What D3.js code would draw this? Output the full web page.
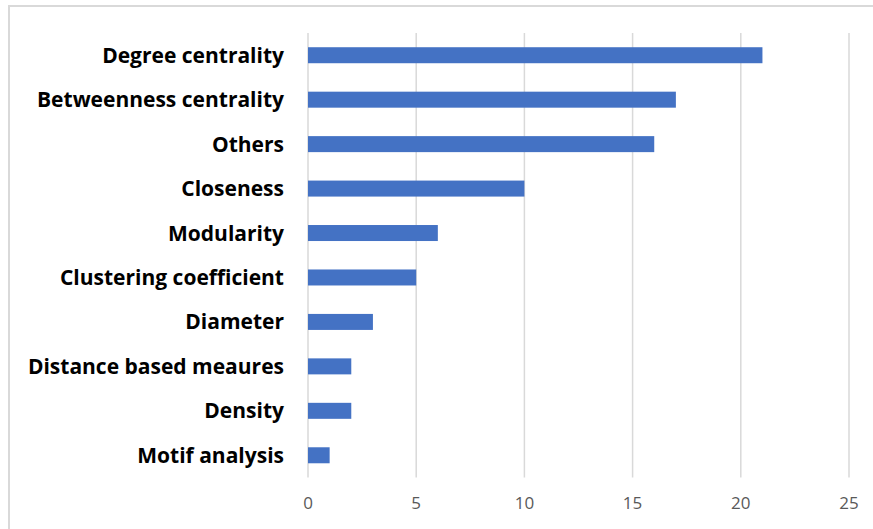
<!DOCTYPE html>
<html>
<head>
<meta charset="utf-8">
<script src="https://cdn.jsdelivr.net/npm/d3@7"></script>
<style>
  body { margin: 0; background: #fff; }
  svg { display: block; }
  .cat-label { font-family: "Open Sans", Lato, sans-serif; font-weight: bold; font-size: 21px; fill: #000; }
  .tick-label { font-family: "Open Sans", Lato, sans-serif; font-size: 17px; fill: #595959; }
</style>
</head>
<body>
<div id="chart"></div>
<script>
// measures and how many studies used them
var categories = ["Degree centrality", "Betweenness centrality", "Others", "Closeness",
  "Modularity", "Clustering coefficient", "Diameter", "Distance based meaures",
  "Density", "Motif analysis"];
var counts = [21, 17, 16, 10, 6, 5, 3, 2, 2, 1];
var xTicks = [0, 5, 10, 15, 20, 25];

var width = 873, height = 529;

var svg = d3.select("#chart").append("svg")
  .attr("width", width)
  .attr("height", height);

// chart frame, runs off the right and bottom of the picture
svg.append("rect")
  .attr("x", 9).attr("y", 6)
  .attr("width", 900).attr("height", 560)
  .attr("fill", "none")
  .attr("stroke", "#d9d9d9")
  .attr("stroke-width", 2);

var x = d3.scaleLinear()
  .domain([0, 25])
  .range([308, 849]);

var y = d3.scaleBand()
  .domain(categories)
  .range([33, 477.5])
  .paddingInner(0.64)
  .paddingOuter(0.32);

// gridlines
svg.append("g")
  .selectAll("line")
  .data(xTicks)
  .enter().append("line")
  .attr("x1", function(d) { return x(d); })
  .attr("x2", function(d) { return x(d); })
  .attr("y1", y.range()[0])
  .attr("y2", y.range()[1])
  .attr("stroke", "#d9d9d9")
  .attr("stroke-width", 1.5);

// bars
svg.append("g")
  .selectAll("rect")
  .data(counts)
  .enter().append("rect")
  .attr("x", x(0))
  .attr("y", function(d, i) { return y(categories[i]); })
  .attr("width", function(d) { return x(d) - x(0); })
  .attr("height", y.bandwidth())
  .attr("fill", "#4472c4");

// category labels
svg.append("g")
  .selectAll("text")
  .data(categories)
  .enter().append("text")
  .attr("class", "cat-label")
  .attr("x", 284)
  .attr("y", function(d) { return y(d) + y.bandwidth() / 2; })
  .attr("dy", "0.36em")
  .attr("text-anchor", "end")
  .text(function(d) { return d; });

// x tick labels
svg.append("g")
  .selectAll("text")
  .data(xTicks)
  .enter().append("text")
  .attr("class", "tick-label")
  .attr("x", function(d) { return x(d); })
  .attr("y", 503)
  .attr("dy", "0.36em")
  .attr("text-anchor", "middle")
  .text(function(d) { return d; });
</script>
</body>
</html>
